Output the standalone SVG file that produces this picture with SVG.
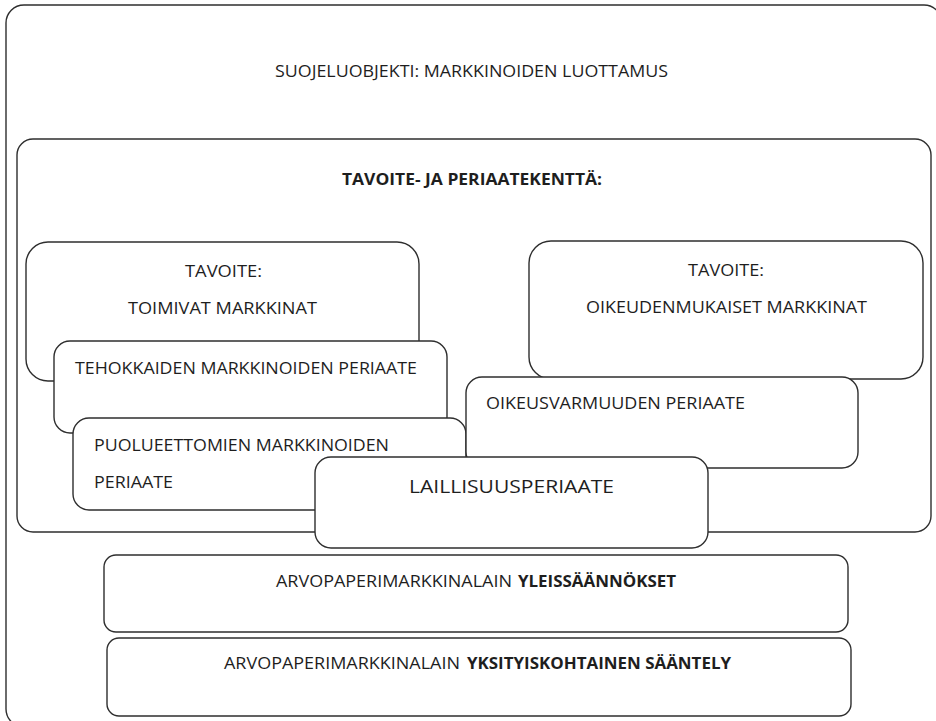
<svg xmlns="http://www.w3.org/2000/svg" width="936" height="721" viewBox="0 0 936 721">
  <style>
    .box { fill: #ffffff; stroke: #2e2e2e; stroke-width: 1.4; }
    text { font-family: "Open Sans", "Noto Sans", "Liberation Sans", sans-serif; fill: #1e1e1e; font-size: 16px; }
    .b { font-weight: bold; }
    .big { font-size: 19px; }
  </style>
  <rect width="936" height="721" fill="#ffffff"/>

  <g id="suojeluobjekti">
    <rect class="box" x="6" y="5" width="936" height="722" rx="18"/>
    <text x="275" y="77" textLength="393" lengthAdjust="spacingAndGlyphs">SUOJELUOBJEKTI: MARKKINOIDEN LUOTTAMUS</text>
  </g>

  <g id="kentta">
    <rect class="box" x="17" y="139" width="914" height="393" rx="16"/>
    <text class="b" x="342" y="185" textLength="260" lengthAdjust="spacingAndGlyphs">TAVOITE- JA PERIAATEKENTTÄ:</text>
  </g>

  <g id="tavoite-toimivat">
    <rect class="box" x="26" y="242" width="393" height="139" rx="22"/>
    <text x="185" y="277" textLength="77" lengthAdjust="spacingAndGlyphs">TAVOITE:</text>
    <text x="128" y="314" textLength="189" lengthAdjust="spacingAndGlyphs">TOIMIVAT MARKKINAT</text>
  </g>

  <g id="tavoite-oikeudenmukaiset">
    <rect class="box" x="529" y="241" width="394" height="138" rx="22"/>
    <text x="688" y="276" textLength="76" lengthAdjust="spacingAndGlyphs">TAVOITE:</text>
    <text x="586" y="313" textLength="281" lengthAdjust="spacingAndGlyphs">OIKEUDENMUKAISET MARKKINAT</text>
  </g>

  <g id="tehokkaat">
    <rect class="box" x="54" y="341" width="393" height="92" rx="16"/>
    <text x="75" y="374" textLength="342" lengthAdjust="spacingAndGlyphs">TEHOKKAIDEN MARKKINOIDEN PERIAATE</text>
  </g>

  <g id="puolueettomat">
    <rect class="box" x="73" y="418" width="393" height="92" rx="16"/>
    <text x="94" y="451" textLength="295" lengthAdjust="spacingAndGlyphs">PUOLUEETTOMIEN MARKKINOIDEN</text>
    <text x="94" y="488" textLength="79" lengthAdjust="spacingAndGlyphs">PERIAATE</text>
  </g>

  <g id="oikeusvarmuus">
    <rect class="box" x="466" y="377" width="392" height="91" rx="16"/>
    <text x="486" y="409" textLength="259" lengthAdjust="spacingAndGlyphs">OIKEUSVARMUUDEN PERIAATE</text>
  </g>

  <g id="laillisuus">
    <rect class="box" x="315" y="457" width="393" height="91" rx="16"/>
    <text class="big" x="409" y="493" textLength="205" lengthAdjust="spacingAndGlyphs">LAILLISUUSPERIAATE</text>
  </g>

  <g id="yleissaannokset">
    <rect class="box" x="104" y="555" width="744" height="77" rx="12"/>
    <text x="276" y="587"><tspan textLength="236" lengthAdjust="spacingAndGlyphs">ARVOPAPERIMARKKINALAIN</tspan><tspan class="b" x="518" textLength="158" lengthAdjust="spacingAndGlyphs">YLEISSÄÄNNÖKSET</tspan></text>
  </g>

  <g id="yksityiskohtainen">
    <rect class="box" x="107" y="638" width="744" height="78" rx="12"/>
    <text x="224" y="669"><tspan textLength="236" lengthAdjust="spacingAndGlyphs">ARVOPAPERIMARKKINALAIN</tspan><tspan class="b" x="467" textLength="264" lengthAdjust="spacingAndGlyphs">YKSITYISKOHTAINEN SÄÄNTELY</tspan></text>
  </g>

  <g id="connectors"/>
</svg>
